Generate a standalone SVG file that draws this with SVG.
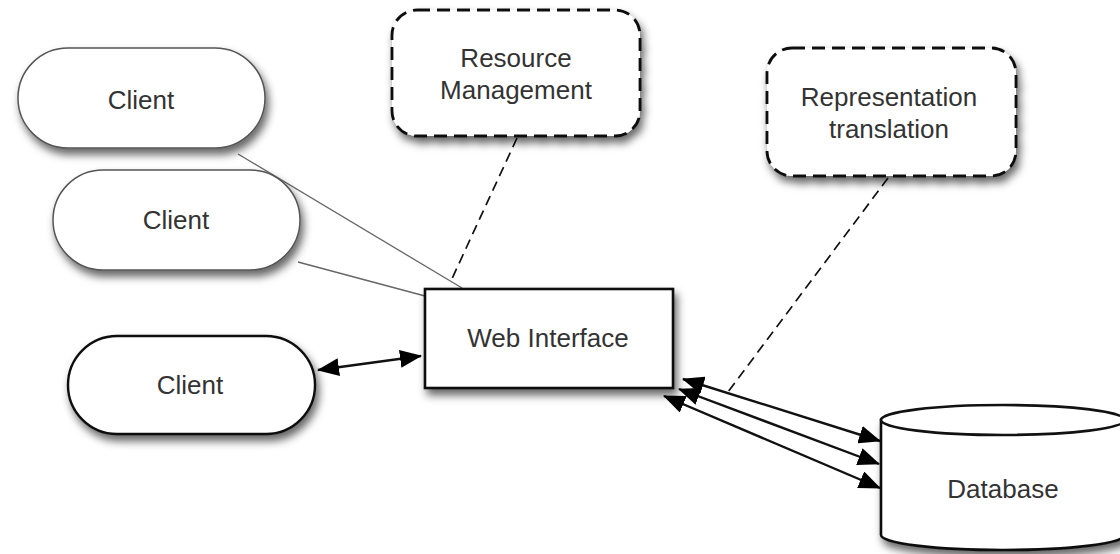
<svg xmlns="http://www.w3.org/2000/svg" width="1120" height="554" viewBox="0 0 1120 554">
  <style>
    .lbl { font-family: "Liberation Sans", Arial, sans-serif; font-size: 26px; fill: #333; text-anchor: middle; }
    .client { fill: #fff; stroke: #555; stroke-width: 1.5; }
    .client3 { fill: #fff; stroke: #111; stroke-width: 2.4; }
    .dashbox { fill: #fff; stroke: #111; stroke-width: 2.8; stroke-dasharray: 13 7; }
    .box { fill: #fff; stroke: #111; stroke-width: 2.6; }
    .thin { fill: none; stroke: #666; stroke-width: 1.3; }
    .dash { fill: none; stroke: #111; stroke-width: 1.7; stroke-dasharray: 10 6; }
    .arr { fill: none; stroke: #111; stroke-width: 2.4; marker-start: url(#ah); marker-end: url(#ah); }
  </style>
  <defs>
    <filter id="sh" x="-20%" y="-20%" width="150%" height="160%">
      <feDropShadow dx="3" dy="6" stdDeviation="4.5" flood-color="#000" flood-opacity="0.6"/>
    </filter>
    <marker id="ah" viewBox="0 0 22 18" refX="21" refY="9" markerWidth="22" markerHeight="18" markerUnits="userSpaceOnUse" orient="auto-start-reverse">
      <path d="M0,0 L22,9 L0,18 Z" fill="#000"/>
    </marker>
  </defs>

  <g id="connectors">
    <line class="thin" x1="238" y1="154" x2="462" y2="288"/>
    <line class="thin" x1="298" y1="262" x2="425" y2="296"/>
    <line class="dash" x1="517" y1="138" x2="450" y2="283"/>
    <line class="dash" x1="888" y1="178" x2="728" y2="392"/>
    <line class="arr" x1="318" y1="370" x2="421" y2="356"/>
    <line class="arr" x1="683" y1="379" x2="880" y2="441"/>
    <line class="arr" x1="679" y1="389" x2="879" y2="464"/>
    <line class="arr" x1="664" y1="396" x2="880" y2="488"/>
  </g>

  <g id="client1">
    <rect class="client" x="18" y="48" width="247" height="100" rx="50" filter="url(#sh)"/>
    <text class="lbl" x="141" y="109">Client</text>
  </g>
  <g id="client2">
    <rect class="client" x="53" y="170" width="247" height="100" rx="50" filter="url(#sh)"/>
    <text class="lbl" x="176" y="229">Client</text>
  </g>
  <g id="client3">
    <rect class="client3" x="68" y="336" width="247" height="98" rx="49" filter="url(#sh)"/>
    <text class="lbl" x="190" y="394">Client</text>
  </g>
  <g id="resource-management">
    <rect class="dashbox" x="392" y="10" width="248" height="126" rx="25" filter="url(#sh)"/>
    <text class="lbl" x="516" y="67">Resource</text>
    <text class="lbl" x="516" y="99">Management</text>
  </g>
  <g id="representation-translation">
    <rect class="dashbox" x="767" y="48" width="249" height="128" rx="25" filter="url(#sh)"/>
    <text class="lbl" x="889" y="106">Representation</text>
    <text class="lbl" x="889" y="138">translation</text>
  </g>
  <g id="web-interface">
    <rect class="box" x="425" y="289" width="248" height="99" filter="url(#sh)"/>
    <text class="lbl" x="548" y="347">Web Interface</text>
  </g>
  <g id="database">
    <path class="box" d="M881,420 L881,535 A122,15 0 0 0 1125,535 L1125,420 Z" filter="url(#sh)"/>
    <ellipse class="box" cx="1003" cy="420" rx="122" ry="15"/>
    <text class="lbl" x="1003" y="498">Database</text>
  </g>
</svg>
